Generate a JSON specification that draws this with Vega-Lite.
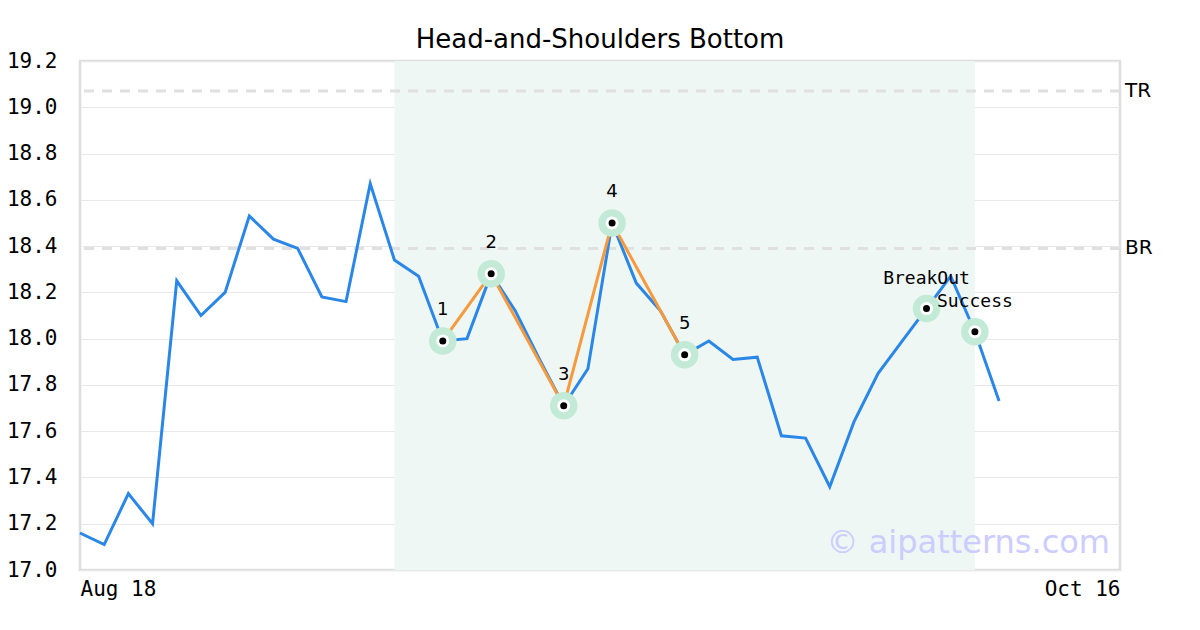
{
  "$schema": "https://vega.github.io/schema/vega-lite/v6.json",
  "autosize": "none",
  "width": 1040,
  "height": 509,
  "padding": {"left": 80, "top": 61, "right": 80, "bottom": 60},
  "background": "white",
  "title": {
    "text": "Head-and-Shoulders Bottom",
    "font": "DejaVu Sans",
    "fontSize": 26,
    "fontWeight": "normal",
    "color": "#000000",
    "baseline": "bottom",
    "frame": "group",
    "offset": 7,
    "dy": 36
  },
  "config": {
    "view": {"stroke": "#dddddd", "strokeWidth": 2.5},
    "axis": {
      "labelFont": "DejaVu Sans Mono",
      "labelFontSize": 21,
      "labelColor": "#000000",
      "domain": false,
      "ticks": false,
      "title": null
    }
  },
  "datasets": {
    "price": [
      {"i": 0, "p": 17.16}, {"i": 1, "p": 17.11}, {"i": 2, "p": 17.33}, {"i": 3, "p": 17.20},
      {"i": 4, "p": 18.25}, {"i": 5, "p": 18.10}, {"i": 6, "p": 18.20}, {"i": 7, "p": 18.53},
      {"i": 8, "p": 18.43}, {"i": 9, "p": 18.39}, {"i": 10, "p": 18.18}, {"i": 11, "p": 18.16},
      {"i": 12, "p": 18.67}, {"i": 13, "p": 18.34}, {"i": 14, "p": 18.27}, {"i": 15, "p": 17.99},
      {"i": 16, "p": 18.00}, {"i": 17, "p": 18.28}, {"i": 18, "p": 18.12}, {"i": 19, "p": 17.91},
      {"i": 20, "p": 17.71}, {"i": 21, "p": 17.87}, {"i": 22, "p": 18.50}, {"i": 23, "p": 18.24},
      {"i": 24, "p": 18.12}, {"i": 25, "p": 17.93}, {"i": 26, "p": 17.99}, {"i": 27, "p": 17.91},
      {"i": 28, "p": 17.92}, {"i": 29, "p": 17.58}, {"i": 30, "p": 17.57}, {"i": 31, "p": 17.36},
      {"i": 32, "p": 17.64}, {"i": 33, "p": 17.85}, {"i": 34, "p": 17.99}, {"i": 35, "p": 18.13},
      {"i": 36, "p": 18.27}, {"i": 37, "p": 18.03}, {"i": 38, "p": 17.73}
    ],
    "pattern": [
      {"i": 15, "p": 17.99, "label": "1"},
      {"i": 17, "p": 18.28, "label": "2"},
      {"i": 20, "p": 17.71, "label": "3"},
      {"i": 22, "p": 18.50, "label": "4"},
      {"i": 25, "p": 17.93, "label": "5"}
    ],
    "signals": [
      {"i": 35, "p": 18.13, "label": "BreakOut"},
      {"i": 37, "p": 18.03, "label": "Success"}
    ],
    "levels": [
      {"name": "TR", "value": 19.07},
      {"name": "BR", "value": 18.39}
    ],
    "zone": [{"start": 13, "end": 37}],
    "mark": [{"i": 43, "p": 17.115, "text": "© aipatterns.com"}]
  },
  "layer": [
    {
      "data": {"name": "zone"},
      "mark": {"type": "rect", "color": "#eff7f4"},
      "encoding": {
        "x": {"field": "start", "type": "quantitative", "scale": {"domain": [0, 43], "nice": false, "zero": false},
              "axis": {"values": [0, 43], "labelExpr": "datum.value == 0 ? 'Aug 18' : 'Oct 16'", "labelFlush": true, "grid": false, "labelPadding": 8}},
        "x2": {"field": "end"}
      }
    },
    {
      "data": {"name": "levels"},
      "mark": {"type": "rule", "color": "#e0e0e0", "strokeWidth": 3, "strokeDash": [10, 8]},
      "encoding": {
        "y": {"field": "value", "type": "quantitative", "scale": {"domain": [17.0, 19.2], "nice": false, "zero": false},
              "axis": {"values": [17.0, 17.2, 17.4, 17.6, 17.8, 18.0, 18.2, 18.4, 18.6, 18.8, 19.0, 19.2], "format": ".1f", "grid": true, "gridColor": "#e8e8e8", "gridWidth": 1, "labelPadding": 23}}
      }
    },
    {
      "data": {"name": "levels"},
      "mark": {"type": "text", "font": "DejaVu Sans", "fontSize": 20, "align": "left", "baseline": "middle", "dx": 5, "color": "#000000"},
      "encoding": {
        "x": {"datum": 43, "type": "quantitative"},
        "y": {"field": "value", "type": "quantitative"},
        "text": {"field": "name"}
      }
    },
    {
      "data": {"name": "price"},
      "mark": {"type": "line", "color": "#2a87e8", "strokeWidth": 3},
      "encoding": {
        "x": {"field": "i", "type": "quantitative"},
        "y": {"field": "p", "type": "quantitative"}
      }
    },
    {
      "data": {"name": "pattern"},
      "mark": {"type": "line", "color": "#f7993d", "strokeWidth": 3},
      "encoding": {
        "x": {"field": "i", "type": "quantitative"},
        "y": {"field": "p", "type": "quantitative"}
      }
    },
    {
      "data": {"name": "pattern"},
      "mark": {"type": "point", "filled": true, "color": "#c2ead6", "size": 760, "opacity": 1},
      "encoding": {
        "x": {"field": "i", "type": "quantitative"},
        "y": {"field": "p", "type": "quantitative"}
      }
    },
    {
      "data": {"name": "signals"},
      "mark": {"type": "point", "filled": true, "color": "#c2ead6", "size": 760, "opacity": 1},
      "encoding": {
        "x": {"field": "i", "type": "quantitative"},
        "y": {"field": "p", "type": "quantitative"}
      }
    },
    {
      "data": {"name": "pattern"},
      "mark": {"type": "point", "filled": true, "fill": "#000000", "stroke": "#ffffff", "strokeWidth": 3, "size": 100, "opacity": 1},
      "encoding": {
        "x": {"field": "i", "type": "quantitative"},
        "y": {"field": "p", "type": "quantitative"}
      }
    },
    {
      "data": {"name": "signals"},
      "mark": {"type": "point", "filled": true, "fill": "#000000", "stroke": "#ffffff", "strokeWidth": 3, "size": 100, "opacity": 1},
      "encoding": {
        "x": {"field": "i", "type": "quantitative"},
        "y": {"field": "p", "type": "quantitative"}
      }
    },
    {
      "data": {"name": "pattern"},
      "mark": {"type": "text", "font": "DejaVu Sans", "fontSize": 18, "align": "center", "baseline": "middle", "dy": -31, "color": "#000000"},
      "encoding": {
        "x": {"field": "i", "type": "quantitative"},
        "y": {"field": "p", "type": "quantitative"},
        "text": {"field": "label"}
      }
    },
    {
      "data": {"name": "signals"},
      "mark": {"type": "text", "font": "DejaVu Sans Mono", "fontSize": 18, "align": "center", "baseline": "middle", "dy": -30, "color": "#000000"},
      "encoding": {
        "x": {"field": "i", "type": "quantitative"},
        "y": {"field": "p", "type": "quantitative"},
        "text": {"field": "label"}
      }
    },
    {
      "data": {"name": "mark"},
      "mark": {"type": "text", "font": "DejaVu Sans", "fontSize": 32, "align": "right", "baseline": "middle", "dx": -10, "color": "#ccccff"},
      "encoding": {
        "x": {"field": "i", "type": "quantitative"},
        "y": {"field": "p", "type": "quantitative"},
        "text": {"field": "text"}
      }
    }
  ]
}
